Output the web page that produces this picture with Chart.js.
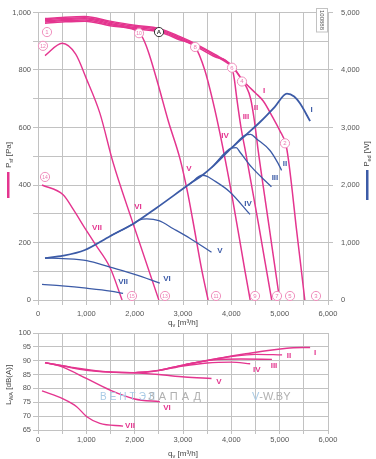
<!DOCTYPE html>
<html>
<head>
<meta charset="utf-8">
<script src="https://cdn.jsdelivr.net/npm/chart.js@4.4.0/dist/chart.umd.min.js"></script>
<style>
  html, body { margin: 0; padding: 0; background: #fff; }
  #wrap { position: relative; width: 376px; height: 459px; overflow: hidden; }
  #top { position: absolute; left: 0; top: 0; }
  #bot { position: absolute; left: 0; top: 322px; }
</style>
</head>
<body>
<div id="wrap">
  <canvas id="top" width="376" height="330"></canvas>
  <canvas id="bot" width="376" height="137"></canvas>
</div>
<script>
const PINK = '#e4358f';
const BLUE = '#3c5ba7';
const GRID = '#c2c2c2';
const FONT = 'Liberation Sans';

// static pressure psf [Pa], curves I..VII (q in m3/h)
const psfI_q = [145, 500, 970, 1490, 2000, 2520, 2940, 3250, 3660, 4010, 4220, 4340, 4500, 4660, 4860, 5000, 5130, 5180, 5260, 5340, 5430, 5520];
const psfI_v = [979, 983, 986, 970, 956, 944, 916, 892, 854, 816, 768, 746, 720, 692, 634, 590, 540, 490, 380, 257, 130, 0];
const psfII_q = [145, 500, 970, 1490, 2000, 2520, 2940, 3250, 3660, 4010, 4220, 4300, 4400, 4480, 4560, 4780, 5000];
const psfII_v = [975, 979, 982, 966, 952, 940, 912, 888, 850, 812, 766, 745, 700, 620, 514, 257, 0];
const psfIII_q = [145, 500, 970, 1490, 2000, 2520, 2940, 3250, 3660, 4010, 4060, 4110, 4200, 4300, 4570, 4700, 4835];
const psfIII_v = [971, 975, 978, 962, 948, 936, 908, 884, 846, 808, 770, 705, 600, 510, 257, 130, 0];
const psfIV_q = [145, 500, 970, 1490, 2000, 2520, 2940, 3250, 3450, 3620, 3770, 4010, 4280, 4390];
const psfIV_v = [967, 971, 974, 958, 944, 932, 904, 880, 800, 690, 575, 366, 103, 0];
const psfV_q = [145, 500, 970, 1490, 2000, 2100, 2200, 2300, 2480, 2700, 2940, 3100, 3200, 3390, 3520];
const psfV_v = [963, 967, 970, 954, 940, 930, 900, 855, 753, 620, 490, 370, 280, 103, 0];
const psfVI_q = [145, 500, 780, 1000, 1280, 1550, 1965, 2500];
const psfVI_v = [850, 893, 855, 770, 650, 480, 267, 0];
const psfVII_q = [83, 520, 730, 970, 1180, 1490, 1740];
const psfVII_v = [400, 366, 315, 250, 195, 113, 0];

// input power ped [W]
const pedI_q = [145, 520, 970, 1490, 2000, 2450, 3150, 3400, 3600, 4000, 4300, 4600, 4900, 5150, 5300, 5420, 5630];
const pedI_v = [730, 770, 870, 1110, 1340, 1600, 2025, 2170, 2310, 2640, 2870, 3100, 3360, 3590, 3540, 3420, 3110];
const pedII_q = [4000, 4300, 4400, 4525, 4800, 4965, 5040];
const pedII_v = [2640, 2870, 2880, 2800, 2600, 2380, 2255];
const pedIII_q = [3600, 4000, 4100, 4180, 4420, 4830];
const pedIII_v = [2310, 2640, 2650, 2570, 2310, 1970];
const pedIV_q = [3150, 3400, 3500, 3600, 3970, 4385];
const pedIV_v = [2025, 2170, 2150, 2100, 1880, 1490];
const pedV_q = [1490, 2000, 2100, 2250, 2500, 2800, 3140, 3590];
const pedV_v = [1110, 1340, 1395, 1410, 1380, 1240, 1075, 830];
const pedVI_q = [145, 520, 1010, 1490, 2000, 2520];
const pedVI_v = [730, 720, 685, 570, 445, 295];
const pedVII_q = [83, 500, 1000, 1500, 1760];
const pedVII_v = [270, 245, 205, 155, 115];

// sound power LwA [dB(A)]
const lwaI_q = [145, 520, 1000, 1500, 2000, 2500, 3000, 3600, 4300, 5150, 5630];
const lwaI_v = [89.3, 88.1, 86.6, 85.9, 85.7, 86.5, 88.4, 90.4, 92.5, 94.5, 94.8];
const lwaII_q = [3000, 3600, 4000, 4500, 5050];
const lwaII_v = [88.4, 90.4, 91.5, 92.3, 92.1];
const lwaIII_q = [2500, 3000, 3600, 4200, 4840];
const lwaIII_v = [86.5, 88.4, 90.2, 90.6, 90.5];
const lwaIV_q = [2000, 2500, 3000, 3500, 4000, 4390];
const lwaIV_v = [85.7, 86.5, 88.1, 89.2, 89.5, 88.9];
const lwaV_q = [145, 700, 1400, 2000, 2500, 3035, 3590];
const lwaV_v = [89.3, 87.6, 86.0, 85.6, 85.0, 84.1, 83.6];
const lwaVI_q = [145, 500, 1000, 1490, 2000, 2520];
const lwaVI_v = [89.3, 87.8, 83.6, 79.4, 76.2, 75.2];
const lwaVII_q = [83, 520, 800, 1010, 1280, 1760];
const lwaVII_v = [79.1, 76.2, 73.4, 69.8, 67.4, 66.4];

// curve names and where their labels sit
const curveNames = ['I', 'II', 'III', 'IV', 'V', 'VI', 'VII'];
const psfLabelQ = [4676, 4510, 4303, 3869, 3124, 2069, 1221];
const psfLabelV = [727, 668, 637, 572, 455, 325, 250];
const pedLabelQ = [5663, 5110, 4903, 4345, 3766, 2669, 1759];
const pedLabelV = [3309, 2368, 2123, 1678, 856, 377, 308];
const lwaLabelQ = [5731, 5193, 4883, 4525, 3745, 2669, 1903];
const lwaLabelV = [92.9, 91.8, 88.1, 86.6, 82.3, 72.9, 66.4];

// numbered operating points
const pointNums = ['1', '12', '10', '8', '6', '4', '2', '14', '15', '13', '11', '9', '7', '5', '3'];
const pointQ = [186, 103, 2090, 3250, 4014, 4220, 5110, 145, 1945, 2628, 3683, 4490, 4945, 5214, 5752];
const pointV = [932, 884, 928, 880, 808, 760, 545, 428, 14, 14, 14, 14, 14, 14, 14];
const markQ = 2504, markV = 932;

const fmt = v => v.toLocaleString('en-US');
const tickFont = { family: FONT, size: 7.5 };
const tickColor = '#555';

function line(qs, vs, color, width, axis) {
    return {
        data: qs.map((q, i) => ({ x: q, y: vs[i] })),
        borderColor: color, borderWidth: width, pointRadius: 0,
        showLine: true, fill: false, cubicInterpolationMode: 'monotone',
        yAxisID: axis
    };
}

// text with a subscript part, optionally rotated
function subText(ctx, parts, cx, cy, angle) {
    ctx.save();
    ctx.translate(cx, cy);
    ctx.rotate(angle);
    ctx.fillStyle = '#444';
    ctx.textBaseline = 'middle';
    ctx.textAlign = 'left';
    const f = p => p[1] ? `5.5px ${FONT}` : `8px ${FONT}`;
    let w = 0;
    parts.forEach(p => { ctx.font = f(p); w += ctx.measureText(p[0]).width; });
    let xx = -w / 2;
    parts.forEach(p => {
        ctx.font = f(p);
        ctx.fillText(p[0], xx, p[1] ? 2 : 0);
        xx += ctx.measureText(p[0]).width;
    });
    ctx.restore();
}

function labels(ctx, xs, ys, qs, vs, color) {
    ctx.save();
    ctx.font = `bold 8px ${FONT}`;
    ctx.fillStyle = color;
    ctx.textAlign = 'center';
    ctx.textBaseline = 'middle';
    curveNames.forEach((n, i) => ctx.fillText(n, xs.getPixelForValue(qs[i]), ys.getPixelForValue(vs[i])));
    ctx.restore();
}

const decorTop = {
    id: 'decorTop',
    afterDatasetsDraw(chart) {
        const { ctx, scales: { x, y, y2 } } = chart;
        labels(ctx, x, y, psfLabelQ, psfLabelV, PINK);
        labels(ctx, x, y2, pedLabelQ, pedLabelV, BLUE);

        // circled point numbers
        ctx.save();
        ctx.textAlign = 'center';
        ctx.textBaseline = 'middle';
        pointNums.forEach((n, i) => {
            const px = x.getPixelForValue(pointQ[i]), py = y.getPixelForValue(pointV[i]);
            ctx.beginPath();
            ctx.arc(px, py, 4.6, 0, Math.PI * 2);
            ctx.fillStyle = '#fff';
            ctx.fill();
            ctx.lineWidth = 1;
            ctx.strokeStyle = '#ef8fbd';
            ctx.stroke();
            ctx.fillStyle = '#ec79b0';
            ctx.font = `${n.length > 1 ? 5 : 6}px ${FONT}`;
            ctx.fillText(n, px, py + 0.3);
        });
        const mx = x.getPixelForValue(markQ), my = y.getPixelForValue(markV);
        ctx.beginPath();
        ctx.arc(mx, my, 4.6, 0, Math.PI * 2);
        ctx.fillStyle = '#fff';
        ctx.fill();
        ctx.strokeStyle = '#333';
        ctx.stroke();
        ctx.fillStyle = '#333';
        ctx.font = `bold 6px ${FONT}`;
        ctx.fillText('A', mx, my + 0.3);

        // drawing number box
        ctx.fillStyle = '#fff';
        ctx.fillRect(316, 9, 11, 23);
        ctx.strokeStyle = GRID;
        ctx.strokeRect(316.5, 8.5, 11, 23.5);
        ctx.translate(322, 20);
        ctx.rotate(Math.PI / 2);
        ctx.fillStyle = '#555';
        ctx.font = `6px ${FONT}`;
        ctx.fillText('100888', 0, 0);
        ctx.restore();

        // axis titles
        subText(ctx, [['P', 0], ['sf', 1], [' [Pa]', 0]], 9, 155, -Math.PI / 2);
        subText(ctx, [['P', 0], ['ed', 1], [' [W]', 0]], 367, 154, -Math.PI / 2);
        subText(ctx, [['q', 0], ['v', 1], [' [m³/h]', 0]], 183, 323, 0);
        ctx.fillStyle = PINK;
        ctx.fillRect(7, 172, 2.5, 26);
        ctx.fillStyle = BLUE;
        ctx.fillRect(366, 170, 2.5, 30);
    }
};

const decorBot = {
    id: 'decorBot',
    afterDatasetsDraw(chart) {
        const { ctx, scales: { x, y } } = chart;
        labels(ctx, x, y, lwaLabelQ, lwaLabelV, PINK);
        subText(ctx, [['L', 0], ['WA', 1], [' [dB(A)]', 0]], 9, 63, -Math.PI / 2);
        subText(ctx, [['q', 0], ['v', 1], [' [m³/h]', 0]], 183, 132, 0);

        // watermark
        ctx.save();
        ctx.textBaseline = 'middle';
        ctx.textAlign = 'left';
        ctx.letterSpacing = '3px';
        ctx.font = `10px ${FONT}`;
        ctx.fillStyle = '#a9cbe6';
        ctx.fillText('ВЕНТЭЛ', 100, 75);
        ctx.letterSpacing = '4px';
        ctx.font = `11px ${FONT}`;
        ctx.fillStyle = '#b0b0b0';
        ctx.fillText('ЗАПАД', 148, 75);
        ctx.letterSpacing = '0px';
        ctx.fillStyle = '#a9cbe6';
        ctx.fillText('V', 252, 75);
        ctx.fillStyle = '#b0b0b0';
        ctx.fillText('-W.BY', 252 + ctx.measureText('V').width, 75);
        ctx.restore();
    }
};

const xScale = (h, tl, pad) => ({
    type: 'linear', min: 0, max: 6000,
    afterFit: s => { s.height = h; },
    ticks: { stepSize: 500, autoSkip: false, maxRotation: 0, padding: pad, font: tickFont, color: tickColor,
             callback: v => v % 1000 === 0 ? fmt(v) : '' },
    grid: { color: GRID, lineWidth: 1, tickLength: tl },
    border: { display: false }
});

new Chart(document.getElementById('top'), {
    type: 'scatter',
    data: {
        datasets: [
            line(pedI_q, pedI_v, BLUE, 1.8, 'y2'),
            line(pedII_q, pedII_v, BLUE, 1.3, 'y2'),
            line(pedIII_q, pedIII_v, BLUE, 1.3, 'y2'),
            line(pedIV_q, pedIV_v, BLUE, 1.3, 'y2'),
            line(pedV_q, pedV_v, BLUE, 1.3, 'y2'),
            line(pedVI_q, pedVI_v, BLUE, 1.3, 'y2'),
            line(pedVII_q, pedVII_v, BLUE, 1.3, 'y2'),
            line(psfI_q, psfI_v, PINK, 1.5, 'y'),
            line(psfII_q, psfII_v, PINK, 1.5, 'y'),
            line(psfIII_q, psfIII_v, PINK, 1.5, 'y'),
            line(psfIV_q, psfIV_v, PINK, 1.5, 'y'),
            line(psfV_q, psfV_v, PINK, 1.5, 'y'),
            line(psfVI_q, psfVI_v, PINK, 1.4, 'y'),
            line(psfVII_q, psfVII_v, PINK, 1.4, 'y'),
        ]
    },
    options: {
        responsive: false, animation: false,
        layout: { padding: { top: 8, left: 0, right: 0, bottom: 0 } },
        plugins: { legend: { display: false }, tooltip: { enabled: false } },
        scales: {
            x: xScale(30, 5, 4),
            y: {
                min: 0, max: 1000,
                afterFit: s => { s.width = 38; },
                ticks: { stepSize: 100, padding: 2, font: tickFont, color: tickColor,
                         callback: v => v % 200 === 0 ? fmt(v) : '' },
                grid: { color: GRID, lineWidth: 1, tickLength: 5 },
                border: { display: false }
            },
            y2: {
                position: 'right', min: 0, max: 5000,
                afterFit: s => { s.width = 48; },
                ticks: { stepSize: 1000, padding: 8, font: tickFont, color: tickColor, callback: v => fmt(v) },
                grid: { drawOnChartArea: false, color: GRID, lineWidth: 1, tickLength: 5 },
                border: { display: false }
            }
        }
    },
    plugins: [decorTop]
});

new Chart(document.getElementById('bot'), {
    type: 'scatter',
    data: {
        datasets: [
            line(lwaI_q, lwaI_v, PINK, 1.5, 'y'),
            line(lwaII_q, lwaII_v, PINK, 1.4, 'y'),
            line(lwaIII_q, lwaIII_v, PINK, 1.4, 'y'),
            line(lwaIV_q, lwaIV_v, PINK, 1.4, 'y'),
            line(lwaV_q, lwaV_v, PINK, 1.4, 'y'),
            line(lwaVI_q, lwaVI_v, PINK, 1.4, 'y'),
            line(lwaVII_q, lwaVII_v, PINK, 1.4, 'y'),
        ]
    },
    options: {
        responsive: false, animation: false,
        layout: { padding: { top: 11, left: 0, right: 48, bottom: 0 } },
        plugins: { legend: { display: false }, tooltip: { enabled: false } },
        scales: {
            x: xScale(29, 4, 1),
            y: {
                min: 65, max: 100,
                afterFit: s => { s.width = 38; },
                ticks: { stepSize: 5, padding: 2, font: tickFont, color: tickColor },
                grid: { color: GRID, lineWidth: 1, tickLength: 5 },
                border: { display: false }
            }
        }
    },
    plugins: [decorBot]
});
</script>
</body>
</html>
